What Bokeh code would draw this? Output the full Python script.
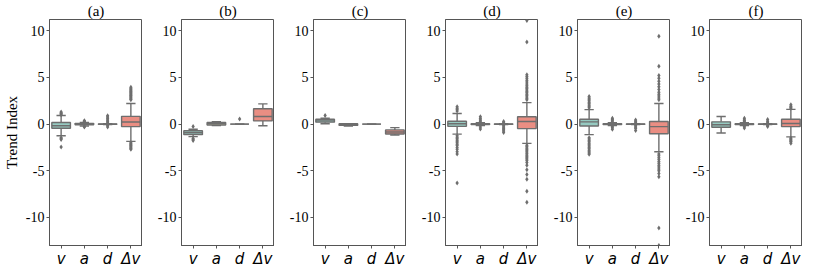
from bokeh.plotting import figure
from bokeh.layouts import row
from bokeh.models import FixedTicker, Range1d, ColumnDataSource
from bokeh.embed import file_html
from bokeh.resources import INLINE

# ---------------- data ----------------
categories = ["v", "a", "d", "Δv"]
panel_titles = ["(a)", "(b)", "(c)", "(d)", "(e)", "(f)"]
y_ticks = [-10, -5, 0, 5, 10]
y_tick_labels = ["-10", "-5", "0", "5", "10"]
y_min, y_max = -13.0, 11.2

# one row per panel, columns in the order of `categories`
whisker_low = [
    [-1.25, -0.20, -0.05, -1.85],
    [-1.34, -0.15, 0.00, -0.17],
    [0.03, -0.20, 0.00, -1.16],
    [-1.07, -0.15, -0.05, -2.06],
    [-1.13, -0.15, -0.05, -2.96],
    [-0.96, -0.15, -0.05, -1.37],
]
quart1 = [
    [-0.45, -0.08, -0.02, -0.27],
    [-1.13, -0.10, 0.00, 0.34],
    [0.21, -0.14, 0.00, -1.06],
    [-0.24, -0.05, -0.02, -0.48],
    [-0.21, -0.05, -0.02, -1.03],
    [-0.34, -0.05, -0.02, -0.27],
]
median = [
    [-0.17, -0.01, 0.00, 0.22],
    [-0.93, 0.03, 0.00, 0.82],
    [0.34, -0.05, 0.00, -0.85],
    [0.03, 0.00, 0.00, 0.27],
    [0.24, 0.00, 0.00, -0.27],
    [-0.07, 0.00, 0.00, 0.07],
]
quart3 = [
    [0.17, 0.06, 0.02, 0.83],
    [-0.72, 0.17, 0.00, 1.65],
    [0.52, 0.03, 0.00, -0.62],
    [0.31, 0.05, 0.02, 0.79],
    [0.52, 0.05, 0.02, 0.27],
    [0.24, 0.05, 0.02, 0.52],
]
whisker_high = [
    [0.92, 0.18, 0.05, 2.20],
    [-0.55, 0.25, 0.00, 2.16],
    [0.62, 0.05, 0.00, -0.38],
    [1.13, 0.15, 0.05, 2.30],
    [1.55, 0.15, 0.05, 2.20],
    [0.82, 0.15, 0.05, 1.58],
]
outliers = [
    {"v": [1.0, 1.1, 1.2, 1.3, -1.45, -1.55, -1.65, -2.45],
     "a": [0.25, 0.3, 0.35, -0.25, -0.3],
     "d": [0.15, 0.3, 0.45, 0.6, 0.75, 0.9, -0.15, -0.3],
     "Δv": [2.6, 2.7, 2.8, 2.9, 3.0, 3.1, 3.2, 3.3, 3.4, 3.5, 3.6, 3.7, 3.8, 3.95,
            -2.0, -2.1, -2.2, -2.3, -2.4, -2.5, -2.6, -2.7]},
    {"v": [-0.27, -1.55, -1.65, -1.75],
     "a": [],
     "d": [0.55],
     "Δv": []},
    {"v": [0.93],
     "a": [],
     "d": [],
     "Δv": []},
    {"v": [1.4, 1.55, 1.7, 1.86, -1.25, -1.4, -1.55, -1.7, -1.85, -2.0, -2.15, -2.3,
           -2.5, -2.7, -2.95, -3.2, -6.32],
     "a": [0.3, 0.45, 0.6, 0.79, -0.3, -0.52],
     "d": [0.15, 0.27, -0.15, -0.3, -0.45, -0.6, -0.75, -0.89],
     "Δv": [2.6, 2.75, 2.9, 3.05, 3.2, 3.35, 3.5, 3.65, 3.8, 3.95, 4.1, 4.3, 4.5, 4.7,
            4.9, 5.1, 5.29, 8.8, 11.1,
            -2.27, -2.4, -2.55, -2.7, -2.85, -3.0, -3.15, -3.3, -3.45, -3.6, -3.75,
            -3.9, -4.1, -4.4, -4.9, -5.4, -5.9, -7.18, -8.38]},
    {"v": [1.75, 1.9, 2.05, 2.2, 2.35, 2.5, 2.65, 2.8, 2.96,
           -1.45, -1.6, -1.75, -1.9, -2.05, -2.2, -2.35, -2.5, -2.65, -2.8, -2.95,
           -3.1, -3.23],
     "a": [0.25, 0.4, 0.5, 0.62, -0.25, -0.4, -0.55],
     "d": [0.15, 0.3, 0.45, -0.15, -0.3, -0.45, -0.69],
     "Δv": [2.6, 2.8, 3.0, 3.2, 3.4, 3.7, 4.0, 4.3, 4.6, 4.9, 5.2, 6.2, 9.4,
            -3.2, -3.4, -3.6, -3.8, -4.0, -4.2, -4.4, -4.6, -4.8, -5.0, -5.3, -5.64,
            -11.13, -13.0]},
    {"v": [],
     "a": [0.25, 0.35, 0.45, 0.62, -0.25, -0.41],
     "d": [0.15, 0.3, 0.48, -0.15, -0.27],
     "Δv": [1.7, 1.8, 1.9, 2.06, -1.5, -1.6, -1.7, -1.8, -1.9, -2.06]},
]

# ---------------- style ----------------
box_colors = ["#96cac1", "#f6f6bc", "#c1bed6", "#ea8e83"]
gray = "#6e6e6e"
frame_col = "#555555"
BOX_W = 0.8
CAP_W = 0.4
FW, FH = 93, 226
serif = "Liberation Serif"


def make_panel(k):
    first = (k == 0)
    p = figure(frame_width=FW, frame_height=FH,
               x_range=Range1d(-0.5, len(categories) - 0.5),
               y_range=Range1d(y_min, y_max),
               output_backend="svg", toolbar_location=None,
               min_border_left=(10 if first else 39), min_border_right=0,
               min_border_top=0, min_border_bottom=0,
               background_fill_color="white", border_fill_color="white")
    xs = list(range(len(categories)))
    src = ColumnDataSource(dict(
        x=xs,
        b0=[i - BOX_W / 2 for i in xs], b1=[i + BOX_W / 2 for i in xs],
        c0=[i - CAP_W / 2 for i in xs], c1=[i + CAP_W / 2 for i in xs],
        lo=whisker_low[k], q1=quart1[k], med=median[k], q3=quart3[k],
        hi=whisker_high[k], color=box_colors,
    ))
    lw = 1.4
    p.segment(x0="x", y0="q3", x1="x", y1="hi", source=src, line_color=gray, line_width=lw)
    p.segment(x0="x", y0="q1", x1="x", y1="lo", source=src, line_color=gray, line_width=lw)
    p.segment(x0="c0", y0="hi", x1="c1", y1="hi", source=src, line_color=gray, line_width=lw)
    p.segment(x0="c0", y0="lo", x1="c1", y1="lo", source=src, line_color=gray, line_width=lw)
    p.vbar(x="x", width=BOX_W, bottom="q1", top="q3", source=src,
           fill_color="color", line_color=gray, line_width=lw)
    p.segment(x0="b0", y0="med", x1="b1", y1="med", source=src, line_color=gray, line_width=lw)

    ox, oy = [], []
    for i, c in enumerate(categories):
        for v in outliers[k][c]:
            ox.append(i)
            oy.append(v)
    p.scatter(x=ox, y=oy, marker="diamond", size=5,
              fill_color=gray, line_color=None)

    # title
    p.title.text = panel_titles[k]
    p.title.align = "center"
    p.title.text_font = serif
    p.title.text_font_size = "15px"
    p.title.text_font_style = "normal"
    p.title.text_color = "black"
    p.title.standoff = 1

    p.xgrid.visible = False
    p.ygrid.visible = False
    p.outline_line_color = frame_col
    p.outline_line_width = 1

    xa = p.xaxis[0]
    xa.ticker = FixedTicker(ticks=xs)
    xa.major_label_overrides = {i: c for i, c in enumerate(categories)}
    xa.major_label_text_font = "DejaVu Sans"
    xa.major_label_text_font_style = "italic"
    xa.major_label_text_font_size = "15px"
    xa.major_label_text_color = "black"
    xa.major_label_standoff = 1
    xa.major_tick_out = 3
    xa.major_tick_in = 0
    xa.minor_tick_line_color = None
    xa.axis_line_color = frame_col
    xa.major_tick_line_color = frame_col

    ya = p.yaxis[0]
    ya.ticker = FixedTicker(ticks=y_ticks)
    ya.major_label_overrides = dict(zip(y_ticks, y_tick_labels))
    ya.major_label_text_font = serif
    ya.major_label_text_font_size = "14px"
    ya.major_label_text_color = "black"
    ya.major_label_standoff = 2
    ya.major_tick_out = 3
    ya.major_tick_in = 0
    ya.minor_tick_line_color = None
    ya.axis_line_color = frame_col
    ya.major_tick_line_color = frame_col
    if first:
        ya.axis_label = "Trend Index"
        ya.axis_label_text_font = serif
        ya.axis_label_text_font_size = "15px"
        ya.axis_label_text_font_style = "normal"
        ya.axis_label_text_color = "black"
        ya.axis_label_standoff = 3
    return p


panels = [make_panel(k) for k in range(len(panel_titles))]
layout = row(*panels)

open("out.html", "w").write(file_html(layout, INLINE))
